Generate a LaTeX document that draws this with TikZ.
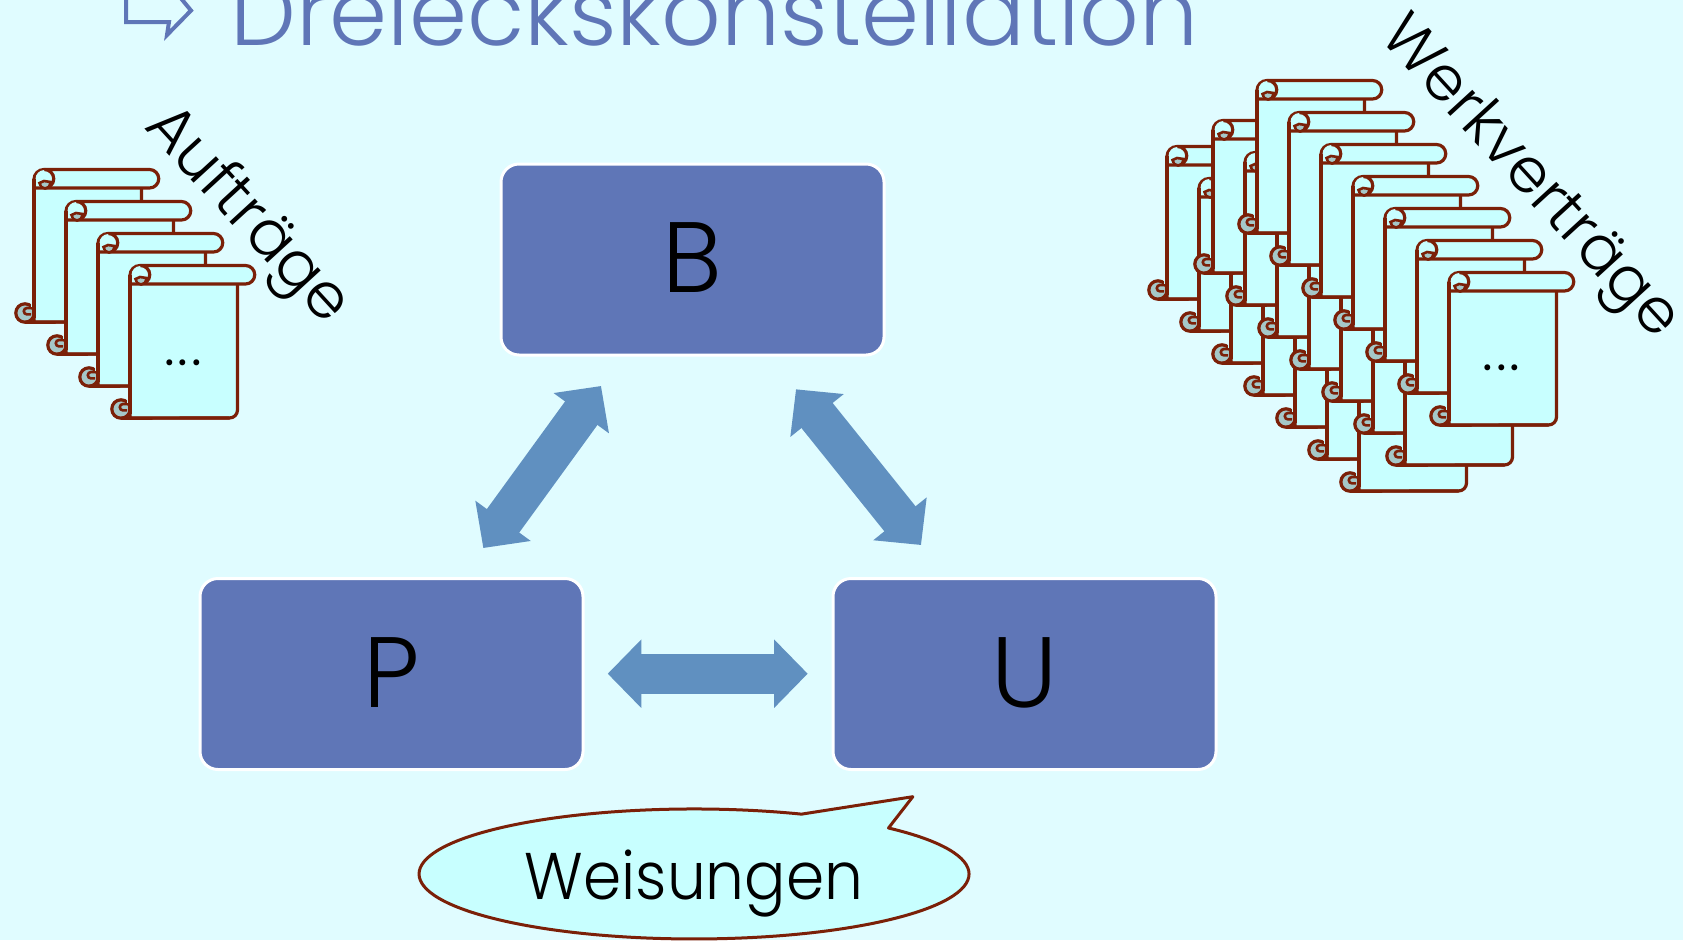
\documentclass[tikz,border=0pt]{standalone}
\usepackage{fontspec}
\setmainfont{Poppins}[UprightFont=* Light]
\usetikzlibrary{arrows.meta,calc}
\definecolor{bgc}{HTML}{E0FCFF}
\definecolor{boxc}{HTML}{5F76B7}
\definecolor{arrc}{HTML}{6090C0}
\definecolor{scrollc}{HTML}{C8FFFF}
\definecolor{linec}{HTML}{7B2008}
\definecolor{curlc}{HTML}{A5C8C8}
\tikzset{
  x=1pt,y=1pt,
  mainbox/.style={rectangle,rounded corners=18pt,fill=boxc,draw=white,line width=3pt,minimum width=383pt,minimum height=191pt,text=black,inner sep=0pt,font=\fontsize{100}{110}\selectfont},
  blockarrow/.style={draw=arrc,line width=40pt,{Triangle[length=33.6pt,width=66.5pt,fill=arrc]}-{Triangle[length=33.6pt,width=66.5pt,fill=arrc]}},
  scrl/.style={draw=linec,line width=3.2pt,fill=scrollc,line join=round},
  rotlabel/.style={anchor=base west,inner sep=0pt,text=black},
  pics/parchment/.style={code={
    \path[scrl] (0,-11) -- (0,-154) -- (99.5,-154) arc[start angle=-90,end angle=0,radius=8] -- (107.5,-16) -- (0,-16) -- cycle;
    \path[scrl] (10.5,-1.5) -- (115.5,-1.5) arc[start angle=90,end angle=-90,radius=9.25] -- (10.5,-20) -- (0,-20) -- (0,-11.5) arc[start angle=180,end angle=90,radius=10] -- cycle;
    \path[scrl,draw=none] (10.5,-11) circle[radius=9];
    \draw[linec,line width=3.2pt] (10.5,-20) arc[start angle=-90,end angle=90,radius=9.25];
    \path[draw=linec,line width=2.6pt,fill=curlc] (5.5,-15) arc[start angle=180,end angle=360,radius=5.5] -- (16.5,-14) -- (10,-13) -- cycle;
    \path[draw=linec,line width=3.2pt,fill=curlc] (-9,-145) circle[radius=9.2];
    \draw[linec,line width=2.6pt] (0,-140) -- (-7,-140) arc[start angle=90,end angle=270,radius=3.2] -- (-3,-146.4);
    \draw[scrollc,line width=1pt] (-3,-135.5) -- (-3,-138.5);
    \draw[linec,line width=3.2pt] (-9,-154.2) -- (99.5,-154);
    \draw[linec,line width=3.2pt] (0,-11) -- (0,-150);
  }}
}
\newcommand{\wdots}{.\kern3pt.\kern3pt.}
\begin{document}
\begin{tikzpicture}
\useasboundingbox (0,-940) rectangle (1683,0);
\clip (0,-940) rectangle (1683,0);
\fill[bgc] (0,-940) rectangle (1683,0);

% title
\node[anchor=base west,inner sep=0pt,text=boxc,font=\fontsize{93.3}{100}\selectfont] (title) at (230,-45) {Dreieckskonstellation};
\draw[boxc,line width=4pt,miter limit=10] (126,8) -- (126,-22) -- (169,-22) -- (167,-35) -- (191,-10.5) -- (170,15);

% left scrolls
\foreach \i in {0,1,2,3}
  \pic at ({34+32*\i},{-168-32*\i}) {parchment};
\node[inner sep=0pt,font=\fontsize{58}{60}\selectfont,anchor=base] (dotsL) at (183,-365) {\wdots};
\node[rotlabel,rotate=-47.5,font=\fontsize{63}{70}\selectfont] (auftraege) at (143,-127) {Aufträge};

% right scrolls
\foreach \cx/\cy in {1167/145,1213/119,1257/79}
  \foreach \i in {0,...,6}
    \pic at ({\cx+32*\i},{-\cy-32*\i}) {parchment};
\node[inner sep=0pt,font=\fontsize{58}{60}\selectfont,anchor=base] (dotsR) at (1501.5,-370) {\wdots};
\node[rotlabel,rotate=-47.5,font=\fontsize{62}{70}\selectfont] (werk) at (1378,-37) {Werkverträge};

% boxes
\node[mainbox] (B) at (692.5,-259.5) {\raisebox{3pt}{B}};
\node[mainbox] (P) at (391.5,-674) {\raisebox{3pt}{P}};
\node[mainbox] (U) at (1024.5,-674) {\raisebox{3pt}{U}};

% arrows
\coordinate (bp1) at (601,-386);
\coordinate (bp2) at (483.3,-548);
\coordinate (bu1) at (796,-389.3);
\coordinate (bu2) at (921,-545);
\coordinate (pu1) at (607.7,-673.7);
\coordinate (pu2) at (807.7,-673.7);
\draw[blockarrow] (bp1) -- (bp2);
\draw[blockarrow] (bu1) -- (bu2);
\draw[blockarrow] (pu1) -- (pu2);

% callout
\draw[draw=linec,fill=scrollc,line width=3pt,line join=round] (888.5,-828) arc[start angle=45,end angle=-293,x radius=275,y radius=65] -- (912.8,-796.7) -- cycle;
\node[anchor=base,inner sep=0pt,text=black,xscale=.93,font=\fontsize{66}{70}\selectfont] (weis) at (694,-899) {Weisungen};
\end{tikzpicture}
\end{document}
